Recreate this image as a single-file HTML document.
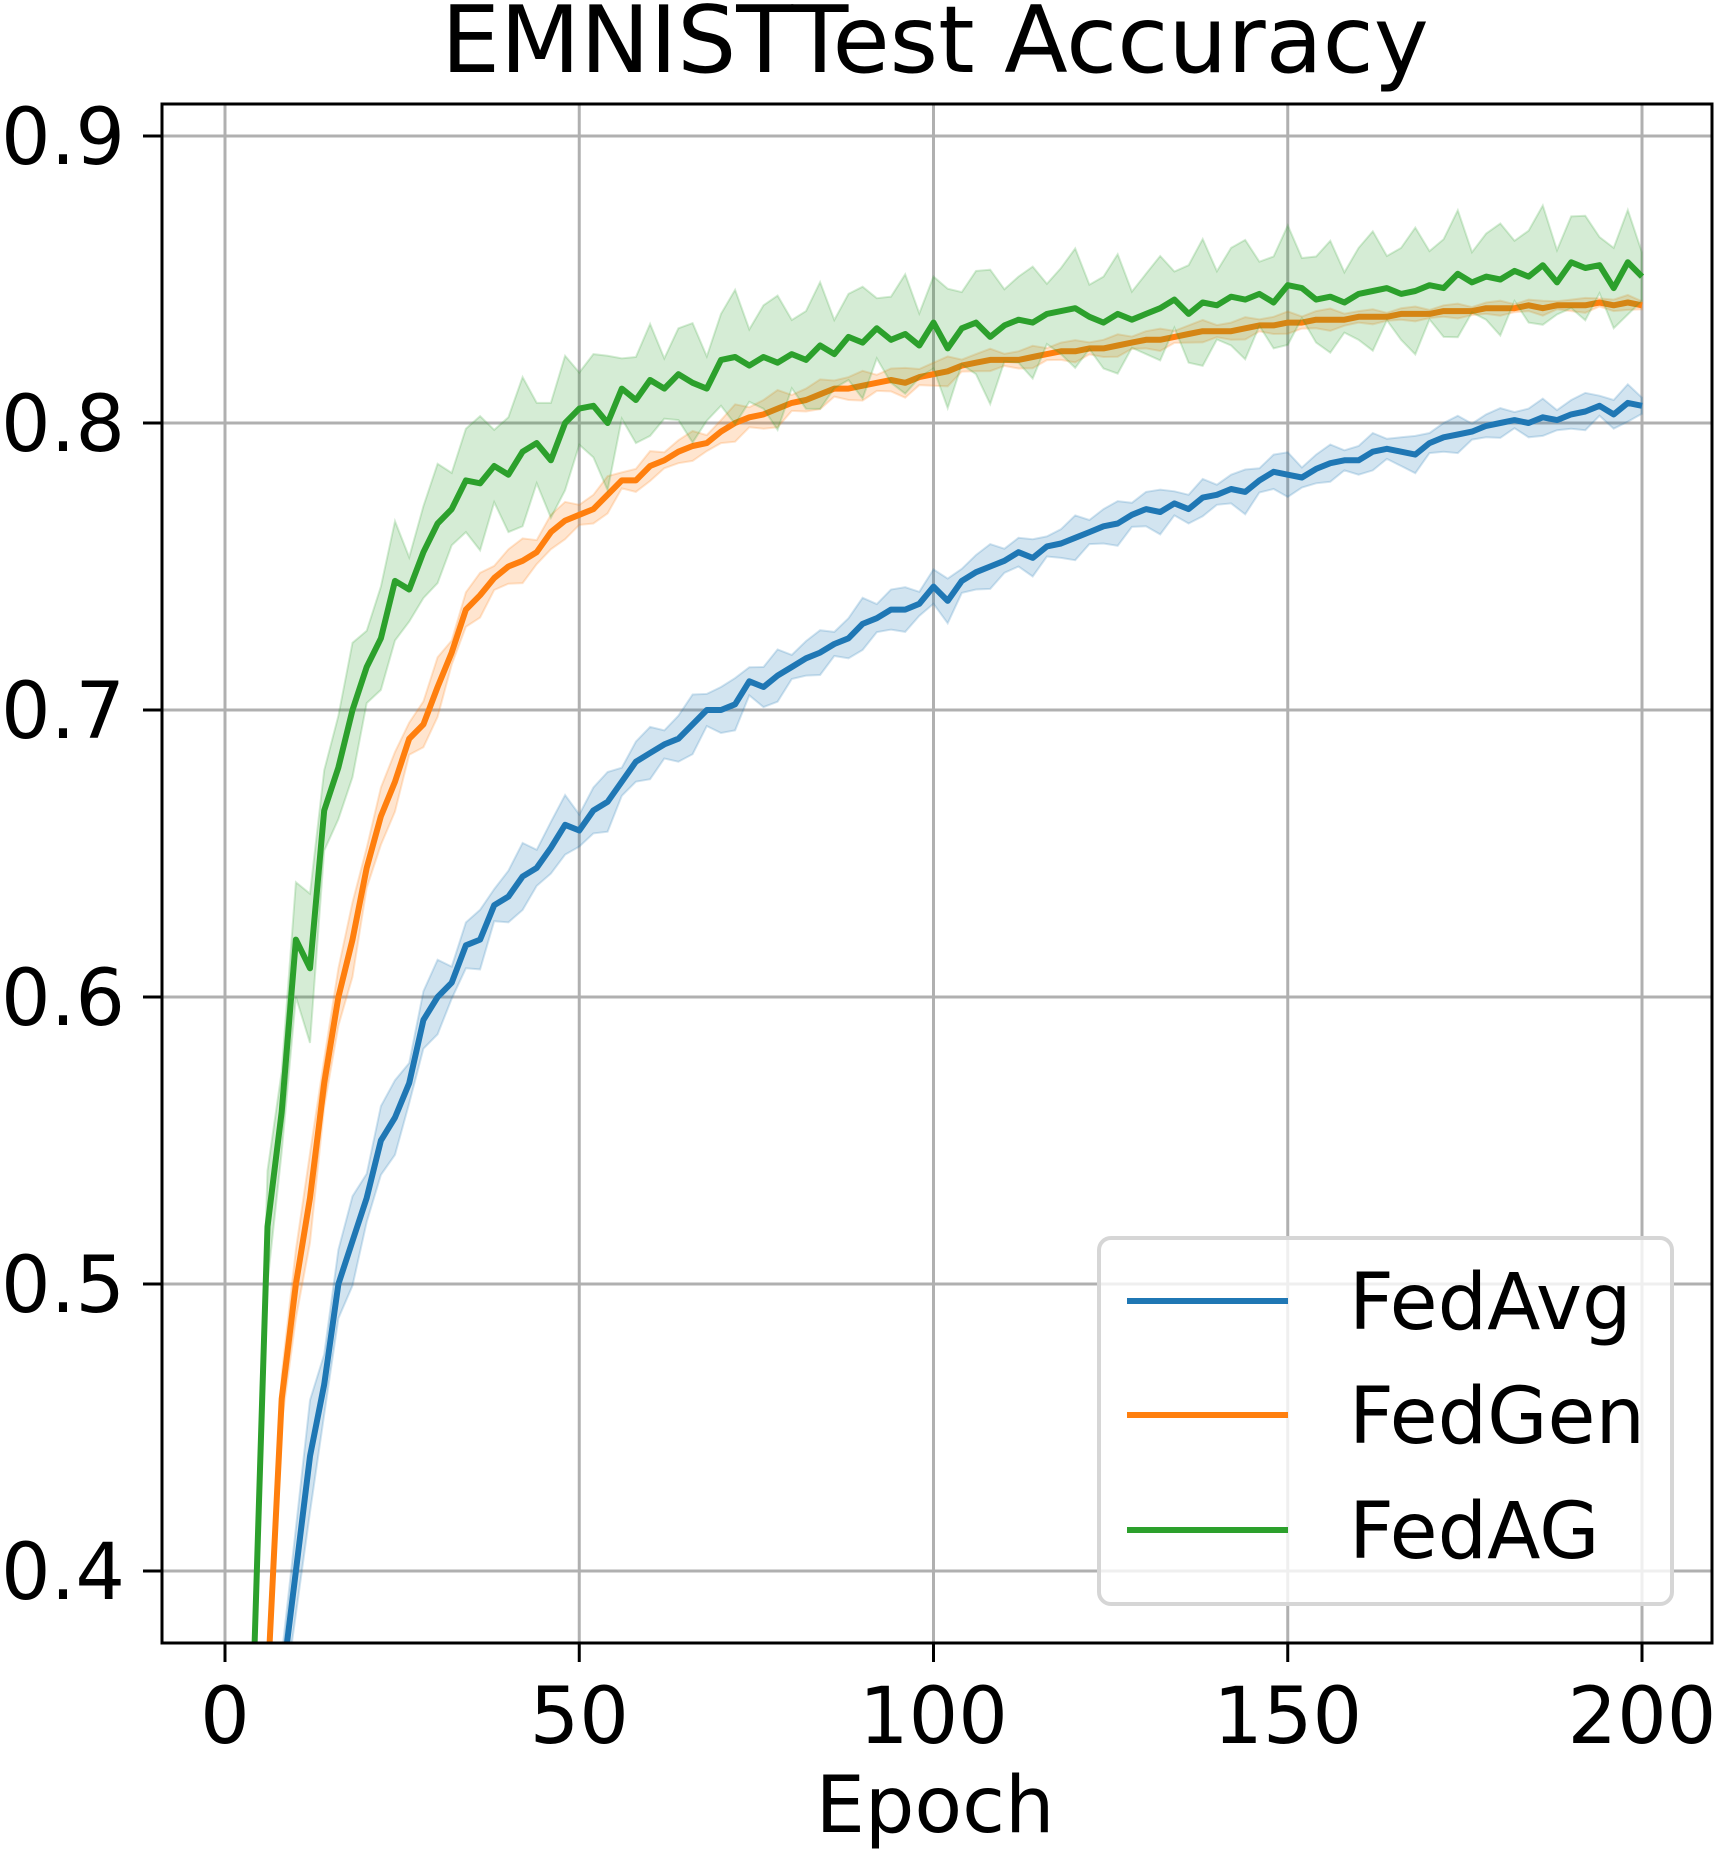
<!DOCTYPE html>
<html><head><meta charset="utf-8"><style>
html,body{margin:0;padding:0;background:#fff;width:1716px;height:1857px;overflow:hidden}
svg{display:block;font-family:"DejaVu Sans","Liberation Sans",sans-serif}
</style></head><body>
<svg id="chart" width="1716" height="1857" viewBox="0 0 1716 1857" xmlns="http://www.w3.org/2000/svg">
<defs><clipPath id="plotclip"><rect x="162" y="104" width="1550" height="1539"/></clipPath></defs>
<text x="935" y="72" font-size="93" text-anchor="middle" fill="#000">EMNISTTest Accuracy</text>
<g id="grid"></g>
<g id="series" clip-path="url(#plotclip)"></g>
<rect x="162" y="104" width="1550" height="1539" fill="none" stroke="#000" stroke-width="3"/>
<g id="ticks"></g>
<text x="935" y="1832" font-size="78" text-anchor="middle">Epoch</text>
<g>
<rect x="1099" y="1238" width="573" height="366" rx="12" fill="#fff" fill-opacity="0.8" stroke="#d6d6d6" stroke-width="4"/>
<g><line x1="1127" y1="1301" x2="1288" y2="1301" stroke="#1f77b4" stroke-width="6"/><text x="1349" y="1329" font-size="78">FedAvg</text></g>
<g><line x1="1127" y1="1415" x2="1288" y2="1415" stroke="#ff7f0e" stroke-width="6"/><text x="1349" y="1443" font-size="78">FedGen</text></g>
<g><line x1="1127" y1="1530" x2="1288" y2="1530" stroke="#2ca02c" stroke-width="6"/><text x="1349" y="1558" font-size="78">FedAG</text></g>
</g>
</svg>
<script>
const epochStep = 2;
const xTicks = [0, 50, 100, 150, 200];
const yTicks = [0.4, 0.5, 0.6, 0.7, 0.8, 0.9];
const yTickLabels = ["0.4", "0.5", "0.6", "0.7", "0.8", "0.9"];
const fedAvg = [.05,.12,.22,.30,.36,.40,.44,.465,.50,.515,.53,.55,.558,.57,.592,.60,.605,.618,.62,.632,.635,.642,.645,.652,.66,.658,.665,.668,.675,.682,.685,.688,.69,.695,.70,.70,.702,.71,.708,.712,.715,.718,.72,.723,.725,.73,.732,.735,.735,.737,.743,.738,.745,.748,.75,.752,.755,.753,.757,.758,.76,.762,.764,.765,.768,.77,.769,.772,.77,.774,.775,.777,.776,.78,.783,.782,.781,.784,.786,.787,.787,.79,.791,.79,.789,.793,.795,.796,.797,.799,.80,.801,.80,.802,.801,.803,.804,.806,.803,.807,.806];
const fedGen = [.08,.16,.27,.36,.46,.50,.53,.57,.60,.62,.645,.663,.675,.69,.695,.708,.72,.735,.74,.746,.75,.752,.755,.762,.766,.768,.77,.775,.78,.78,.785,.787,.79,.792,.793,.797,.80,.802,.803,.805,.807,.808,.81,.812,.812,.813,.814,.815,.814,.816,.817,.818,.82,.821,.822,.822,.822,.823,.824,.825,.825,.826,.826,.827,.828,.829,.829,.83,.831,.832,.832,.832,.833,.834,.834,.835,.835,.836,.836,.836,.837,.837,.837,.838,.838,.838,.839,.839,.839,.84,.84,.84,.841,.84,.841,.841,.841,.842,.841,.842,.841];
const fedAG = [.10,.20,.36,.52,.56,.62,.61,.665,.68,.70,.715,.725,.745,.742,.755,.765,.77,.78,.779,.785,.782,.79,.793,.787,.80,.805,.806,.80,.812,.808,.815,.812,.817,.814,.812,.822,.823,.82,.823,.821,.824,.822,.827,.824,.83,.828,.833,.829,.831,.827,.835,.826,.833,.835,.83,.834,.836,.835,.838,.839,.84,.837,.835,.838,.836,.838,.84,.843,.838,.842,.841,.844,.843,.845,.842,.848,.847,.843,.844,.842,.845,.846,.847,.845,.846,.848,.847,.852,.849,.851,.85,.853,.851,.855,.849,.856,.854,.855,.847,.856,.851];
const fedAvgSpread = [.01,.015,.012,.01,.008,.009,.008,.007,.008,.007,.006,.007,.006,.006,.005,.006,.006,.005,.006,.005,.005,.005,.004,.005,.005,.004];
const fedGenSpread = [.01,.012,.01,.008,.006,.006,.005,.004,.004,.005,.004,.004,.004,.003,.003,.003,.003,.003,.003,.003,.002,.002,.002,.002,.002,.002];
const fedAGSpread = [.015,.02,.018,.016,.018,.02,.018,.015,.016,.018,.017,.015,.016,.018,.015,.016,.014,.017,.016,.015,.016,.017,.015,.016,.014,.012];

const X0 = 225, X1 = 1642, Ytop = 136, Ybot = 1571;
function xs(e){ return X0 + (X1 - X0) * e / 200; }
function ys(v){ return Math.min(1850, Ybot - (Ybot - Ytop) * (v - 0.4) / 0.5); }
const NS = "http://www.w3.org/2000/svg";
const grid = document.getElementById('grid');
const ticks = document.getElementById('ticks');
const series = document.getElementById('series');

xTicks.forEach(t => {
  const g = document.createElementNS(NS,'line');
  
  
  g.setAttribute('x1', xs(t)); g.setAttribute('x2', xs(t)); g.setAttribute('y1', 104); g.setAttribute('y2', 1643);
  g.setAttribute('stroke', '#b0b0b0'); g.setAttribute('stroke-width', 3);
  grid.appendChild(g);
  const tk = document.createElementNS(NS,'line');
  
  
  tk.setAttribute('x1', xs(t)); tk.setAttribute('x2', xs(t)); tk.setAttribute('y1', 1643); tk.setAttribute('y2', 1662);
  tk.setAttribute('stroke', '#000'); tk.setAttribute('stroke-width', 3);
  ticks.appendChild(tk);
  const tx = document.createElementNS(NS,'text');
  
  
  tx.setAttribute('x', xs(t)); tx.setAttribute('y', 1743); tx.setAttribute('font-size', 78); tx.setAttribute('text-anchor', 'middle');
  tx.textContent = String(t);
  ticks.appendChild(tx);
});
yTicks.forEach((t, i) => {
  const g = document.createElementNS(NS,'line');
  
  
  g.setAttribute('x1', 162); g.setAttribute('x2', 1712); g.setAttribute('y1', ys(t)); g.setAttribute('y2', ys(t));
  g.setAttribute('stroke', '#b0b0b0'); g.setAttribute('stroke-width', 3);
  grid.appendChild(g);
  const tk = document.createElementNS(NS,'line');
  
  
  tk.setAttribute('x1', 143); tk.setAttribute('x2', 162); tk.setAttribute('y1', ys(t)); tk.setAttribute('y2', ys(t));
  tk.setAttribute('stroke', '#000'); tk.setAttribute('stroke-width', 3);
  ticks.appendChild(tk);
  const tx = document.createElementNS(NS,'text');
  
  
  tx.setAttribute('x', 125); tx.setAttribute('y', ys(t) + 28); tx.setAttribute('font-size', 78); tx.setAttribute('text-anchor', 'end');
  tx.textContent = yTickLabels[i];
  ticks.appendChild(tx);
});

function drawSeries(vals, spread, color, name){
  let up = [], lo = [], ln = [];
  vals.forEach((v, i) => {
    const e = i * epochStep;
    const s = spread[Math.min(spread.length - 1, Math.floor(i / 4))];
    const w = (i % 3 === 0 ? 1.3 : (i % 3 === 1 ? 0.7 : 1.0)) * s;
    up.push(xs(e).toFixed(1) + ',' + ys(v + w).toFixed(1));
    lo.unshift(xs(e).toFixed(1) + ',' + ys(v - w).toFixed(1));
    ln.push(xs(e).toFixed(1) + ',' + ys(v).toFixed(1));
  });
  const band = document.createElementNS(NS,'polygon');
  
  
  band.setAttribute('points', up.concat(lo).join(' '));
  band.setAttribute('fill', color); band.setAttribute('fill-opacity', 0.2);
  band.setAttribute('stroke', color); band.setAttribute('stroke-opacity', 0.2); band.setAttribute('stroke-width', 2);
  series.appendChild(band);
  const line = document.createElementNS(NS,'polyline');
  
  
  line.setAttribute('points', ln.join(' '));
  line.setAttribute('fill', 'none'); line.setAttribute('stroke', color); line.setAttribute('stroke-width', 6);
  line.setAttribute('stroke-linejoin', 'round');
  series.appendChild(line);
}
drawSeries(fedAvg, fedAvgSpread, '#1f77b4', 'fedavg');
drawSeries(fedGen, fedGenSpread, '#ff7f0e', 'fedgen');
drawSeries(fedAG, fedAGSpread, '#2ca02c', 'fedag');
</script>
</body></html>
